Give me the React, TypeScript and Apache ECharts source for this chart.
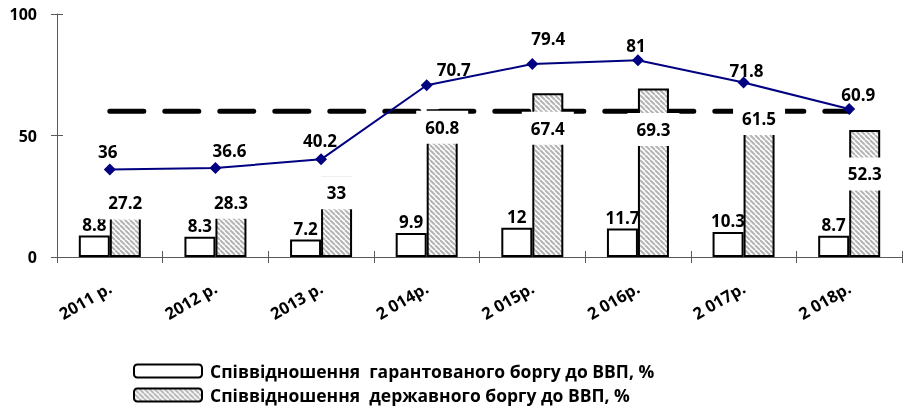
import React, { useEffect, useRef } from 'react';
import * as echarts from 'echarts';

const categories = ['2011 р.', '2012 р.', '2013 р.', '2 014р.', '2 015р.', '2 016р.', '2 017р.', '2 018р.'];
const guaranteedDebt = [8.8, 8.3, 7.2, 9.9, 12, 11.7, 10.3, 8.7];
const stateDebt = [27.2, 28.3, 33, 60.8, 67.4, 69.3, 61.5, 52.3];
const totalDebt = [36, 36.6, 40.2, 70.7, 79.4, 81, 71.8, 60.9];
const limitLine = [60, 60, 60, 60, 60, 60, 60, 60];
const yTicks = [0, 50, 100];
const seriesNames = [
  'Співвідношення  гарантованого боргу до ВВП, %',
  'Співвідношення  державного боргу до ВВП, %',
];

// label placement tweaks (pixels), mirroring the manually placed labels
const stateLabelDy = [12, 14, 16, 18, 35, 41, 11, 44];
const totalLabelShift: [number, number][] = [
  [-2, -1], [14, 0], [-1, -1], [27, 1.5], [16, -8], [-2, 3], [3, 5.6], [9, 3],
];

const FONT = "'Open Sans', sans-serif";
const AXIS_COLOR = '#595959';

function makeHatch(): HTMLCanvasElement {
  const s = 5;
  const c = document.createElement('canvas');
  c.width = s;
  c.height = s;
  const ctx = c.getContext('2d')!;
  ctx.fillStyle = '#ffffff';
  ctx.fillRect(0, 0, s, s);
  ctx.strokeStyle = '#b4b4b4';
  ctx.lineWidth = 2;
  for (let k = -1; k <= 1; k++) {
    ctx.beginPath();
    ctx.moveTo(k * s, 0);
    ctx.lineTo(k * s + s, s);
    ctx.stroke();
  }
  return c;
}

export default function App() {
  const ref = useRef<HTMLDivElement>(null);
  useEffect(() => {
    if (!ref.current) return;
    const chart = echarts.init(ref.current, undefined, { renderer: 'svg' });
    const hatch = { image: makeHatch(), repeat: 'repeat' as const };
    const labelBase = { fontFamily: FONT, fontSize: 17, fontWeight: 'bold' as const, color: '#000' };
    const yMin = yTicks[0];
    const yMax = yTicks[yTicks.length - 1];
    const yInt = yTicks[1] - yTicks[0];
    chart.setOption({
      animation: false,
      textStyle: { fontFamily: FONT },
      grid: { left: 57, right: 1, top: 14, bottom: 151, containLabel: false },
      legend: {
        data: seriesNames,
        orient: 'vertical',
        left: 133,
        top: 362,
        height: 80,
        padding: 0,
        itemWidth: 68,
        itemHeight: 13,
        itemGap: 6,
        selectedMode: false,
        textStyle: { ...labelBase, fontSize: 17.5, lineHeight: 18, padding: [0, 0, 0, 3] },
      },
      xAxis: [
        {
          type: 'category',
          data: categories,
          position: 'bottom',
          boundaryGap: true,
          axisLine: { show: true, lineStyle: { color: AXIS_COLOR, width: 1 } },
          axisTick: { show: true, length: 6, lineStyle: { color: AXIS_COLOR } },
          axisLabel: { ...labelBase, fontSize: 16.5, rotate: 30, margin: 29, interval: 0 },
          splitLine: { show: false },
        },
        {
          type: 'category',
          data: categories,
          position: 'bottom',
          boundaryGap: true,
          axisLine: { show: false },
          axisTick: { show: true, inside: true, length: 6, lineStyle: { color: AXIS_COLOR } },
          axisLabel: { show: false },
          splitLine: { show: false },
        },
      ],
      yAxis: [
        {
          type: 'value',
          min: yMin,
          max: yMax,
          interval: yInt,
          position: 'left',
          axisLine: { show: true, lineStyle: { color: AXIS_COLOR, width: 1 } },
          axisTick: { show: true, length: 6, lineStyle: { color: AXIS_COLOR } },
          axisLabel: { ...labelBase, fontSize: 16, margin: 20 },
          splitLine: { show: false },
        },
        {
          type: 'value',
          min: yMin,
          max: yMax,
          interval: yInt,
          position: 'left',
          axisLine: { show: false },
          axisTick: { show: true, inside: true, length: 6, lineStyle: { color: AXIS_COLOR } },
          axisLabel: { show: false },
          splitLine: { show: false },
        },
      ],
      series: [
        {
          name: seriesNames[0],
          type: 'bar',
          data: guaranteedDebt,
          barWidth: 31,
          barGap: '0%',
          z: 2,
          itemStyle: { color: '#ffffff', borderColor: '#000', borderWidth: 2 },
          label: { show: true, position: 'top', distance: 3, ...labelBase },
        },
        {
          name: seriesNames[1],
          type: 'bar',
          barWidth: 31,
          barGap: '0%',
          z: 4,
          data: stateDebt.map((v, i) => ({
            value: v,
            label: { position: ['50%', stateLabelDy[i]] },
          })),
          itemStyle: { color: hatch, borderColor: '#000', borderWidth: 2 },
          label: {
            show: true,
            ...labelBase,
            align: 'center',
            verticalAlign: 'middle',
            backgroundColor: '#ffffff',
            padding: [8, 9],
          },
        },
        {
          name: 'limit',
          type: 'line',
          data: limitLine,
          symbol: 'none',
          silent: true,
          z: 3,
          lineStyle: { color: '#000', width: 5, type: [34, 21], cap: 'round' },
        },
        {
          name: 'total',
          type: 'line',
          data: totalDebt.map((v, i) => ({
            value: v,
            label: { offset: totalLabelShift[i] },
          })),
          symbol: 'diamond',
          symbolSize: 12,
          z: 5,
          itemStyle: { color: '#000080' },
          lineStyle: { color: '#000080', width: 2 },
          label: { show: true, position: 'top', distance: 3, ...labelBase },
        },
      ],
    });
    return () => chart.dispose();
  }, []);
  return <div ref={ref} style={{ position: 'fixed', left: 0, top: 0, width: 903, height: 408 }} />;
}
